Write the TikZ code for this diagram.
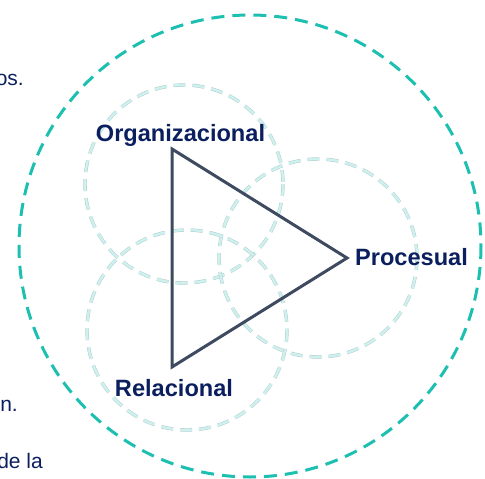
\documentclass[tikz,border=0pt]{standalone}
\usepackage{fontspec}
\setmainfont{Liberation Sans}

\definecolor{navytext}{HTML}{0B1F5E}
\definecolor{slateline}{HTML}{3E4A60}
\definecolor{tealring}{HTML}{1DBFB1}
\definecolor{ringedge}{HTML}{B6CCCC}
\definecolor{ringfill}{HTML}{CDF1EF}

\tikzset{
	outerring/.style={draw=tealring,line width=3pt,dash pattern=on 13pt off 8pt},
	innerring/.style={draw=ringedge,line width=0.5pt,double=ringfill,double distance=2.4pt,dash pattern=on 12pt off 7pt},
	corner/.style={font=\fontsize{23.6}{28}\selectfont\bfseries,text=navytext,inner sep=0pt,anchor=base},
	cuttext/.style={font=\fontsize{21}{25}\selectfont,text=navytext,inner sep=0pt,anchor=base east},
	sideline/.style={draw=slateline,line width=3pt,line join=miter}
}

\begin{document}
\begin{tikzpicture}[x=1pt,y=-1pt]
			\useasboundingbox (0,0) rectangle (485,479);
			\clip (0,0) rectangle (485,479);
			% rings
			\coordinate (C) at (250,246);
			\coordinate (CO) at (184,184);
			\coordinate (CP) at (318,258);
			\coordinate (CR) at (187,330);
			\draw[outerring] (C) circle (231);
			\draw[innerring] (CO) circle (99);
			\draw[innerring] (CP) circle (99);
			\draw[innerring] (CR) circle (100);
			% triangle
			\coordinate (O) at (172,149);
			\coordinate (P) at (347,258);
			\coordinate (R) at (172,367);
			\draw[sideline] (O) -- (P) -- (R) -- cycle;
			% labels
			\node[corner] (LO) at (180.5,141) {Organizacional};
			\node[corner] (LP) at (411.5,265) {Procesual};
			\node[corner] (LR) at (174,396) {Relacional};
			% text cut at the left border
			\node[cuttext] (T1) at (24,85) {os.};
			\node[cuttext] (T2) at (18,411) {n.};
			\node[cuttext] (T3) at (43,468) {de la};
\end{tikzpicture}
\end{document}
